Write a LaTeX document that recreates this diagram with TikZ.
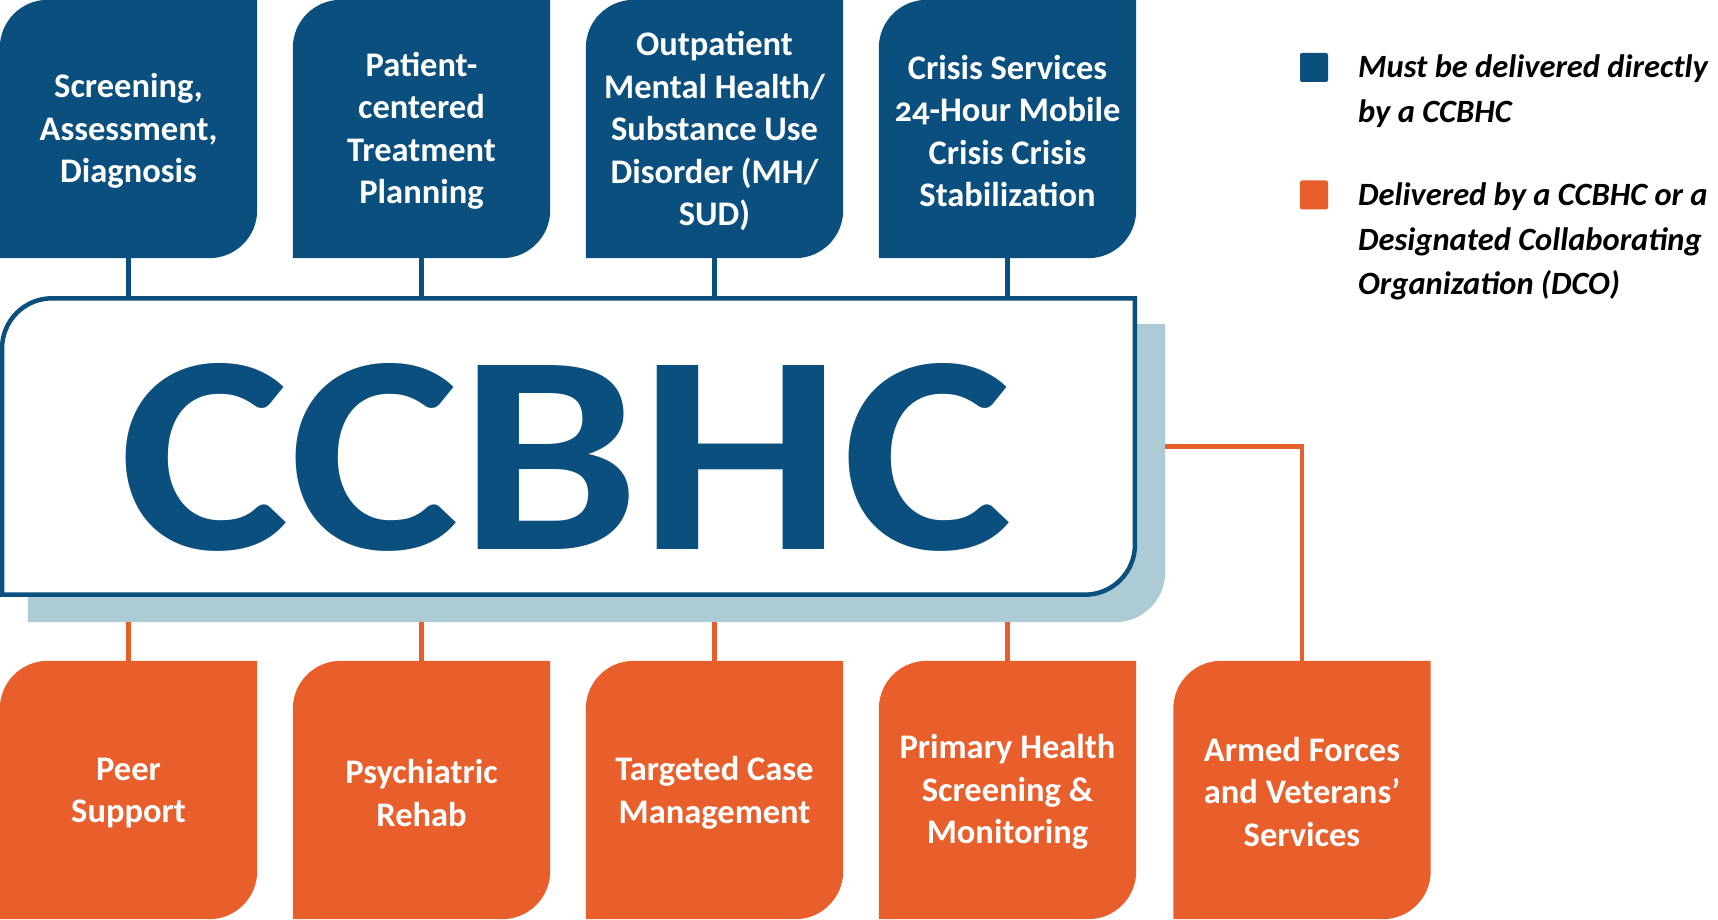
\documentclass[tikz,border=0pt]{standalone}
\usepackage{fontspec}
\setmainfont{Carlito}[Numbers=OldStyle]
\usetikzlibrary{calc}
\definecolor{cblue}{HTML}{0B4F7E}
\definecolor{corange}{HTML}{E95F2C}
\definecolor{cshadow}{HTML}{ADCBD5}
% shape with rounded top-left and bottom-right corners, drawn from a node's anchors
\newcommand\svcshape[3]{%
  \path[#2] (#1.south west) -- ([yshift=-#3]#1.north west)
    arc[start angle=180,end angle=90,radius=#3] -- (#1.north east)
    -- ([yshift=#3]#1.south east)
    arc[start angle=0,end angle=-90,radius=#3] -- cycle;}
\tikzset{
  svc/.style={minimum width=257pt, minimum height=258pt, inner sep=0pt,
    text=white, align=center, font=\bfseries\fontsize{34.5}{42.5}\selectfont},
  frame/.style={minimum width=1132.5pt, minimum height=296pt, inner sep=0pt},
  shade/.style={minimum width=1137pt, minimum height=298pt, inner sep=0pt},
  bluelink/.style={draw=cblue, line width=4.5pt},
  orangelink/.style={draw=corange, line width=4.5pt},
  legsq/.style={minimum width=28pt, minimum height=29pt, inner sep=0pt, rounded corners=2pt},
  legtext/.style={anchor=north west, inner sep=0pt, align=left, text=black,
    font=\bfseries\itshape\fontsize{32.5}{44.5}\selectfont},
}
\begin{document}
\begin{tikzpicture}[x=1pt,y=1pt]
\useasboundingbox (0,0) rectangle (1718,919);
% central box and its shadow
\node[shade] (shadow) at (596.5,446) {};
\node[frame] (ccbhc) at (568.5,472.5) {};
\svcshape{shadow}{fill=cshadow}{50pt}
\svcshape{ccbhc}{fill=white, draw=cblue, line width=4.5pt}{50pt}
\node[inner sep=0pt, text=cblue] (title) at (566,462)
  {\resizebox*{892pt}{188pt}{\bfseries CCBHC}};
% top services
\node[svc] (t1) at (128.5,790) {};
\node[svc] (t2) at (421.5,790) {};
\node[svc] (t3) at (714.5,790) {};
\node[svc] (t4) at (1007.5,790) {};
\foreach \n in {t1,t2,t3,t4}{\svcshape{\n}{fill=cblue}{48pt}}
\node[svc] at ([yshift=-2pt]t1.center) {Screening,\\Assessment,\\Diagnosis};
\node[svc] at ([yshift=-2pt]t2.center) {Patient-\\centered\\Treatment\\Planning};
\node[svc] at ([yshift=-2pt]t3.center) {Outpatient\\Mental Health/\\Substance Use\\Disorder (MH/\\SUD)};
\node[svc] at ([yshift=-2pt]t4.center) {Crisis Services\\24-Hour Mobile\\Crisis Crisis\\Stabilization};
\foreach \n in {t1,t2,t3,t4}{\draw[bluelink] (\n.south) -- (\n.south |- ccbhc.north);}
% bottom services
\node[svc] (b1) at (128.5,129) {};
\node[svc] (b2) at (421.5,129) {};
\node[svc] (b3) at (714.5,129) {};
\node[svc] (b4) at (1007.5,129) {};
\node[svc] (b5) at (1302,129) {};
\foreach \n in {b1,b2,b3,b4,b5}{\svcshape{\n}{fill=corange}{48pt}}
\node[svc] at ([yshift=-3pt]b1.center) {Peer\\Support};
\node[svc] at ([yshift=-3pt]b2.center) {Psychiatric\\Rehab};
\node[svc] at ([yshift=-3pt]b3.center) {Targeted Case\\Management};
\node[svc] at ([yshift=-2pt]b4.center) {Primary Health\\Screening \&\\Monitoring};
\node[svc] at ([yshift=-2pt]b5.center) {Armed Forces\\and Veterans’\\Services};
\foreach \n in {b1,b2,b3,b4}{\draw[orangelink] (\n.north) -- (\n.north |- shadow.south);}
\draw[orangelink] (shadow.east |- ccbhc.east) -| (b5.north);
% legend
\node[legsq, fill=cblue] (lg1) at (1314,851.5) {};
\node[legsq, fill=corange] (lg2) at (1314,724) {};
\node[legtext] (lt1) at (1358,864) {Must be delivered directly\\by a CCBHC};
\node[legtext] (lt2) at (1358,736) {Delivered by a CCBHC or a\\Designated Collaborating\\Organization (DCO)};
\end{tikzpicture}
\end{document}
